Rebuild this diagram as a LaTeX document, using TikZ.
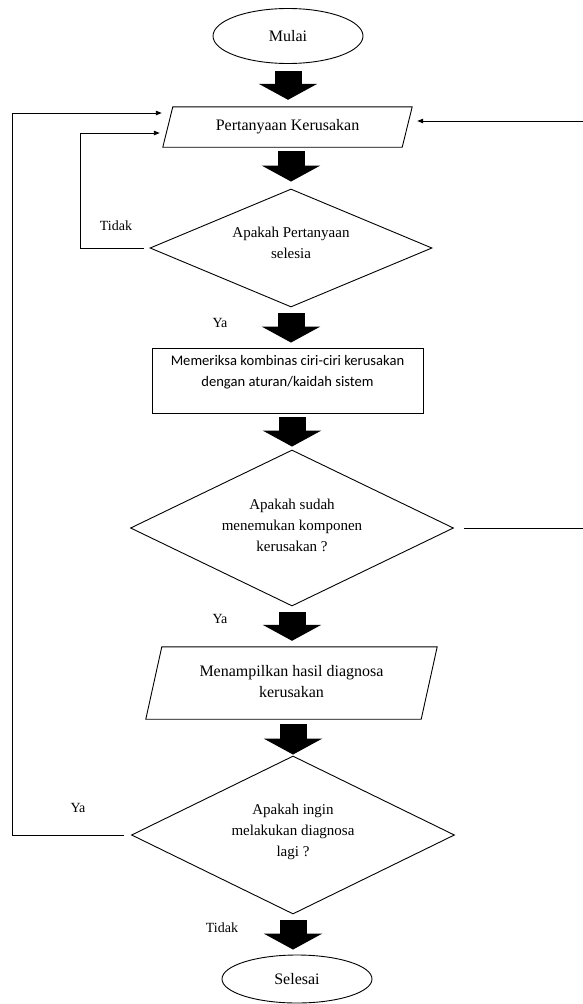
\documentclass[tikz,border=0pt]{standalone}
\usepackage{fontspec}
\setmainfont{Liberation Serif}
\newfontfamily\carlito{Carlito}
\usetikzlibrary{shapes.geometric,arrows.meta}
\begin{document}
\begin{tikzpicture}[x=1pt,y=-1pt,
  base/.style={draw=black,line width=0.9pt,inner sep=0pt},
  term/.style={base,ellipse,font=\fontsize{16}{20}\selectfont},
  dec/.style={base,diamond},
  proc/.style={base,rectangle},
  io/.style={inner sep=0pt,align=center,font=\fontsize{16}{21}\selectfont},
  txt/.style={align=center,inner sep=0pt,font=\fontsize{15}{21}\selectfont},
  lbl/.style={inner sep=0pt,font=\fontsize{14}{17}\selectfont},
  blk/.style={line width=27pt,line cap=butt,-{Triangle[width=58pt,length=16pt]}},
  conn/.style={line width=0.9pt,-{Triangle[length=6pt,width=4.5pt]}},
  edge/.style={line width=0.9pt,line join=miter}
]
\useasboundingbox (0,0) rectangle (583,1004);
\clip (0,0) rectangle (583,1004);
\fill[white] (0,0) rectangle (583,1004);

% terminals
\node[term,minimum width=150pt,minimum height=55pt] (start) at (288,36) {Mulai};
\node[term,minimum width=150pt,minimum height=48pt] (stop) at (297,979) {Selesai};

% input: question
\node[io,minimum width=249pt,minimum height=40pt] (io1) at (287.5,127) {Pertanyaan Kerusakan};
\draw[edge] ([xshift=10pt]io1.north west) -- (io1.north east)
  -- ([xshift=-10pt]io1.south east) -- (io1.south west) -- cycle;

% decision 1
\node[dec,minimum width=282pt,minimum height=118pt] (d1) at (291,248) {};
\node[txt] (d1t) at (291,243) {Apakah Pertanyaan\\selesia};

% process
\node[proc,minimum width=271pt,minimum height=65pt] (pr) at (287.5,380.5) {};
\node[txt,font=\carlito\fontsize{14.6}{21}\selectfont] (prt) at (287.5,372.5)
  {Memeriksa kombinas ciri-ciri kerusakan\\dengan aturan/kaidah sistem};

% decision 2
\node[dec,minimum width=323pt,minimum height=156pt] (d2) at (292,528) {};
\node[txt] (d2t) at (292,525) {Apakah sudah\\menemukan komponen\\kerusakan ?};

% output: diagnosis
\node[io,minimum width=291pt,minimum height=72pt] (io2) at (291.5,683) {};
\draw[edge] ([xshift=16pt]io2.north west) -- (io2.north east)
  -- ([xshift=-16pt]io2.south east) -- (io2.south west) -- cycle;
\node[io] (io2t) at (291.5,681.5) {Menampilkan hasil diagnosa\\kerusakan};

% decision 3
\node[dec,minimum width=323pt,minimum height=158pt] (d3) at (293,835) {};
\node[txt] (d3t) at (293,832) {Apakah ingin\\melakukan diagnosa\\lagi ?};

% main flow (block arrows)
\draw[blk] ([yshift=-7pt]start.south) -- ([yshift=7pt]start.south |- io1.north);
\draw[blk] ([yshift=-4pt]d1.north |- io1.south) -- ([yshift=7pt]d1.north);
\draw[blk] ([yshift=-6pt]d1.south) -- ([yshift=5pt]d1.south |- pr.north);
\draw[blk] ([yshift=-4pt]d2.north |- pr.south) -- ([yshift=3pt]d2.north);
\draw[blk] ([yshift=-6pt]d2.south) -- ([yshift=6pt]d2.south |- io2.north);
\draw[blk] ([yshift=-5pt]d3.north |- io2.south) -- ([yshift=1pt]d3.north);
\draw[blk] ([yshift=-6pt]d3.south) -- ([yshift=5pt]d3.south |- stop.north);

% loop-back connectors
\draw[conn] ([xshift=-6pt]d1.west) -| ([xshift=-82pt,yshift=-6pt]io1.west)
  -- ([xshift=-3pt,yshift=-6pt]io1.west);
\draw[conn] ([xshift=-7pt]d3.west) -| ([xshift=-150pt,yshift=14pt]io1.west)
  -- ([xshift=-1pt,yshift=14pt]io1.west);
\draw[conn] ([xshift=10pt]d2.east) -- ++(140,0) |- ([xshift=5pt,yshift=6pt]io1.east);

% branch labels
\node[lbl] (l1) at (116,226) {Tidak};
\node[lbl] (l2) at (220,323) {Ya};
\node[lbl] (l3) at (220,619) {Ya};
\node[lbl] (l4) at (78,808) {Ya};
\node[lbl] (l5) at (222,928) {Tidak};
\end{tikzpicture}
\end{document}
